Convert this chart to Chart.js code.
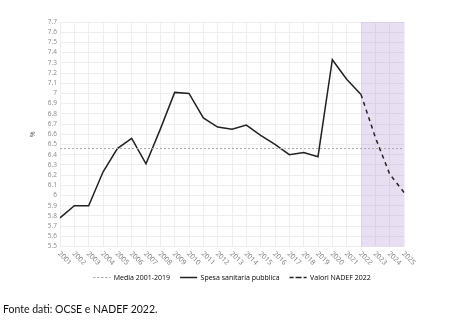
<!DOCTYPE html>
<html>
<head>
<meta charset="utf-8">
<script src="https://cdn.jsdelivr.net/npm/chart.js@4.4.0/dist/chart.umd.min.js"></script>
<style>
  body { margin: 0; background: #fff; }
  #wrap { position: relative; width: 449px; height: 327px; }
  #fonte { position: absolute; left: 3px; top: 303px; font-family: 'Lato', sans-serif; font-size: 10.5px; color: #111; }
</style>
</head>
<body>
<div id="wrap">
  <canvas id="myChart" width="449" height="327"></canvas>
  <div id="fonte">Fonte dati: OCSE e NADEF 2022.</div>
</div>
<script>
const anni = ['2001','2002','2003','2004','2005','2006','2007','2008','2009','2010','2011','2012','2013',
  '2014','2015','2016','2017','2018','2019','2020','2021','2022','2023','2024','2025'];
const spesa = [5.78, 5.90, 5.90, 6.23, 6.46, 6.56, 6.31, 6.65, 7.01, 7.00, 6.76, 6.67, 6.65,
  6.69, 6.59, 6.50, 6.40, 6.42, 6.38, 7.33, 7.14, 6.99, null, null, null];
const nadef = [null, null, null, null, null, null, null, null, null, null, null, null, null,
  null, null, null, null, null, null, null, null, 6.99, 6.57, 6.21, 6.03];
const media = [{x: '2001', y: 6.46}, {x: '2025', y: 6.46}];
const periodoPrevisione = ['2022', '2025'];
const yMin = 5.5, yMax = 7.7, yStep = 0.1;

// fascia viola per gli anni di previsione
const fascia = {
  id: 'fascia',
  beforeDatasetsDraw(chart) {
    const {ctx, chartArea, scales} = chart;
    const x0 = scales.x.getPixelForValue(anni.indexOf(periodoPrevisione[0]));
    const x1 = scales.x.getPixelForValue(anni.indexOf(periodoPrevisione[1]));
    ctx.save();
    ctx.fillStyle = 'rgba(160,120,200,0.24)';
    ctx.fillRect(x0, chartArea.top, x1 - x0, chartArea.bottom - chartArea.top);
    ctx.restore();
  }
};

// etichette anni inclinate verso il basso
const etichetteAnni = {
  id: 'etichetteAnni',
  afterDraw(chart) {
    const {ctx, chartArea, scales} = chart;
    ctx.save();
    ctx.font = '7px "Open Sans"';
    ctx.fillStyle = '#777';
    ctx.textAlign = 'left';
    ctx.textBaseline = 'middle';
    anni.forEach((a, i) => {
      const x = scales.x.getPixelForValue(i);
      ctx.save();
      ctx.translate(x - 1, chartArea.bottom + 6);
      ctx.rotate(Math.PI / 4);
      ctx.fillText(a, 0, 0);
      ctx.restore();
    });
    ctx.restore();
  }
};

const ctx = document.getElementById('myChart');
new Chart(ctx, {
  type: 'line',
  data: {
    labels: anni,
    datasets: [
      {
        label: 'Media 2001-2019',
        data: media,
        borderColor: '#aaa',
        borderWidth: 1,
        borderDash: [2, 2],
        pointRadius: 0
      },
      {
        label: 'Spesa sanitaria pubblica',
        data: spesa,
        borderColor: '#222',
        borderWidth: 1.5,
        pointRadius: 0,
        tension: 0
      },
      {
        label: 'Valori NADEF 2022',
        data: nadef,
        borderColor: '#222',
        borderWidth: 1.5,
        borderDash: [4, 4],
        pointRadius: 0,
        tension: 0
      }
    ]
  },
  options: {
    responsive: false,
    animation: false,
    layout: { padding: { top: 22, right: 45, left: 0, bottom: 36 } },
    scales: {
      x: {
        ticks: { display: false },
        grid: { color: '#eee', drawTicks: false },
        border: { display: false },
        afterFit(scale) { scale.height = 17.5; }
      },
      y: {
        min: yMin,
        max: yMax,
        ticks: {
          stepSize: yStep,
          autoSkip: false,
          padding: 3,
          color: '#888',
          font: { family: 'Open Sans', size: 6.5 },
          callback: v => String(+v.toFixed(1))
        },
        grid: { color: '#eee', drawTicks: false },
        border: { display: false },
        title: {
          display: true,
          text: '%',
          color: '#666',
          font: { family: 'Open Sans', size: 7 },
          padding: { top: 29, bottom: 0 }
        },
        afterFit(scale) { scale.width = 60; }
      }
    },
    plugins: {
      legend: {
        position: 'bottom',
        fullSize: false,
        labels: {
          color: '#555',
          font: { family: 'Open Sans', size: 7 },
          boxWidth: 17,
          boxHeight: 0,
          padding: 10,
          generateLabels(chart) {
            return chart.data.datasets.map((ds, i) => ({
              text: ds.label,
              fillStyle: 'rgba(0,0,0,0)',
              strokeStyle: ds.borderColor,
              lineWidth: ds.borderWidth,
              lineDash: ds.borderDash || [],
              datasetIndex: i
            }));
          }
        }
      },
      tooltip: { enabled: false }
    }
  },
  plugins: [fascia, etichetteAnni]
});
</script>
</body>
</html>
